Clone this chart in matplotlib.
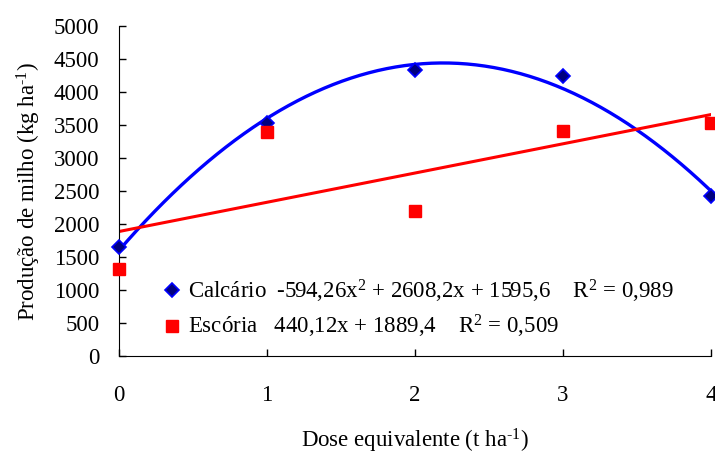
import numpy as np
import matplotlib
matplotlib.use("Agg")
import matplotlib.pyplot as plt

# dose levels (t/ha) and corn yield (kg/ha)
dose = [0, 1, 2, 3, 4]
calcario = [1650, 3530, 4330, 4240, 2420]
escoria = [1320, 3400, 2200, 3410, 3530]

x_ticks = [0, 1, 2, 3, 4]
y_ticks = [0, 500, 1000, 1500, 2000, 2500, 3000, 3500, 4000, 4500, 5000]

lbl_calcario = r"Calcário  -594,26x$^2$ + 2608,2x + 1595,6    R$^2$ = 0,989"
lbl_escoria = r"Escória   440,12x + 1889,4    R$^2$ = 0,509"

plt.rcParams["font.family"] = ["Liberation Serif", "DejaVu Serif"]
plt.rcParams["mathtext.fontset"] = "custom"
plt.rcParams["mathtext.rm"] = "Liberation Serif"
plt.rcParams["mathtext.default"] = "regular"
plt.rcParams["font.size"] = 16.5

fig = plt.figure(figsize=(7.15, 4.55), dpi=100)
ax = fig.add_axes([0.1664, 0.2176, 0.8280, 0.7253])

# trend lines fitted to the points
xs = np.linspace(0, 4, 200)
quad = np.polyfit(dose, calcario, 2)
lin = np.polyfit(dose, escoria, 1)
ax.plot(xs, np.polyval(quad, xs), color="#0000ff", lw=2.4, zorder=2)
ax.plot(xs, np.polyval(lin, xs), color="#ff0000", lw=2.2, zorder=2)

ax.plot(dose, calcario, "D", ms=7.5, mfc="#000080", mec="#0000ff", mew=1.2,
        ls="none", clip_on=False, zorder=3, label=lbl_calcario)
ax.plot(dose, escoria, "s", ms=8, mfc="#ff0000", mec="#ff0000",
        ls="none", clip_on=False, zorder=3, label=lbl_escoria)

ax.set_xlim(0, 4)
ax.set_ylim(0, 5000)
ax.set_xticks(x_ticks)
ax.set_yticks(y_ticks)
ax.spines["top"].set_visible(False)
ax.spines["right"].set_visible(False)
ax.tick_params(axis="both", direction="in", length=5, width=1)
ax.tick_params(axis="x", pad=21)
ax.tick_params(axis="y", pad=14)

ax.set_xlabel(r"Dose equivalente (t ha$^{\text{-}1}$)", labelpad=15)
ax.set_ylabel(r"Produção de milho (kg ha$^{\text{-}1}$)", labelpad=8)

ax.legend(loc="lower left", bbox_to_anchor=(0.055, 0.02), frameon=False,
          handletextpad=0.2, handlelength=1.0, labelspacing=0.35,
          borderaxespad=0)

fig.savefig("out.png", dpi=100)
